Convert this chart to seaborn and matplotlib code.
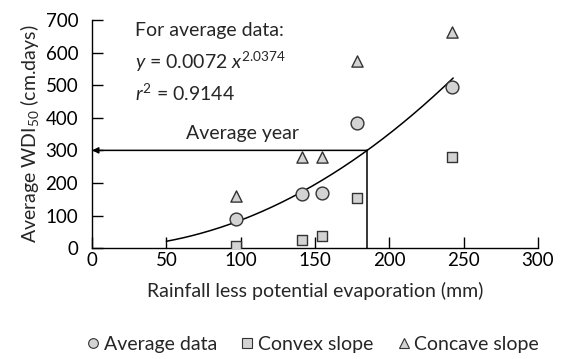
import numpy as np
import pandas as pd
import matplotlib
matplotlib.use("Agg")
import matplotlib.pyplot as plt
import seaborn as sns
from matplotlib.lines import Line2D

sns.set_style("ticks")
plt.rcParams['font.family'] = ['Lato', 'DejaVu Sans']
plt.rcParams['mathtext.fontset'] = 'custom'
plt.rcParams['mathtext.rm'] = 'Lato'
plt.rcParams['mathtext.it'] = 'Lato:italic'
plt.rcParams['xtick.direction'] = 'in'
plt.rcParams['ytick.direction'] = 'in'

# Data
rain = [97, 141, 155, 178, 242]
average_data = [90, 165, 170, 385, 495]
convex_slope = [5, 25, 38, 155, 280]
concave_slope = [160, 280, 280, 575, 665]
series_names = ["Average data", "Convex slope", "Concave slope"]
x_ticks = [0, 50, 100, 150, 200, 250, 300]
y_ticks = [0, 100, 200, 300, 400, 500, 600, 700]
fit_a, fit_b = 0.0072, 2.0374
fit_x = [50, 243]
avg_year_y = 300

df = pd.DataFrame({
    "x": rain * 3,
    "y": average_data + convex_slope + concave_slope,
    "series": [series_names[0]] * 5 + [series_names[1]] * 5 + [series_names[2]] * 5,
})

fig = plt.figure(figsize=(5.65, 3.59), dpi=100)
ax = fig.add_axes([0.163, 0.309, 0.789, 0.635])

markers = {series_names[0]: "o", series_names[1]: "s", series_names[2]: "^"}
sizes = {series_names[0]: 85, series_names[1]: 60, series_names[2]: 65}
for name in series_names:
    sub = df[df.series == name]
    sns.scatterplot(data=sub, x="x", y="y", marker=markers[name], s=sizes[name],
                    color="#d3d3d3", edgecolor="#333333", linewidth=1.0, ax=ax,
                    zorder=3, legend=False)

# fitted curve
xs = np.linspace(fit_x[0], fit_x[1], 200)
ax.plot(xs, fit_a * xs ** fit_b, color="black", lw=1.1, zorder=2)

# average year lines
x_avg = (avg_year_y / fit_a) ** (1 / fit_b)
ax.plot([x_avg, x_avg], [0, avg_year_y], color="black", lw=1.1)
ax.annotate("", xy=(0, avg_year_y), xytext=(x_avg, avg_year_y),
            arrowprops=dict(arrowstyle="-|>", color="black", lw=1.1,
                            mutation_scale=9, shrinkA=0, shrinkB=0))
ax.text(101, 352, "Average year", fontsize=14, ha="center", va="center")

ax.text(29, 668, "For average data:", fontsize=14, va="center")
ax.text(29, 572, r"$y$ = 0.0072 $x^{2.0374}$", fontsize=14, va="center")
ax.text(29, 476, r"$r^2$ = 0.9144", fontsize=14, va="center")

ax.set_xlim(0, 300)
ax.set_ylim(0, 700)
ax.set_xticks(x_ticks)
ax.set_yticks(y_ticks)
ax.tick_params(direction="in", length=8, width=1, labelsize=13.5, colors="black")
ax.tick_params(axis="x", pad=3)
ax.tick_params(axis="y", pad=10)
sns.despine(ax=ax)
for s in ["left", "bottom"]:
    ax.spines[s].set_color("black")
    ax.spines[s].set_linewidth(1)
ax.set_xlabel("Rainfall less potential evaporation (mm)", fontsize=14, labelpad=9)
ax.set_ylabel(r"Average WDI$_{50}$ (cm.days)", fontsize=14, labelpad=3)

handles = [Line2D([], [], ls="", marker=markers[n], markersize=7 if markers[n] != "s" else 6.5,
                  markerfacecolor="#d3d3d3", markeredgecolor="#333333", markeredgewidth=0.8,
                  label=n) for n in series_names]
fig.legend(handles=handles, loc="center", bbox_to_anchor=(0.55, 0.04), ncol=3,
           frameon=False, fontsize=14, handletextpad=0.0, columnspacing=1.0,
           handlelength=1.1)

fig.savefig("out.png", dpi=100)
